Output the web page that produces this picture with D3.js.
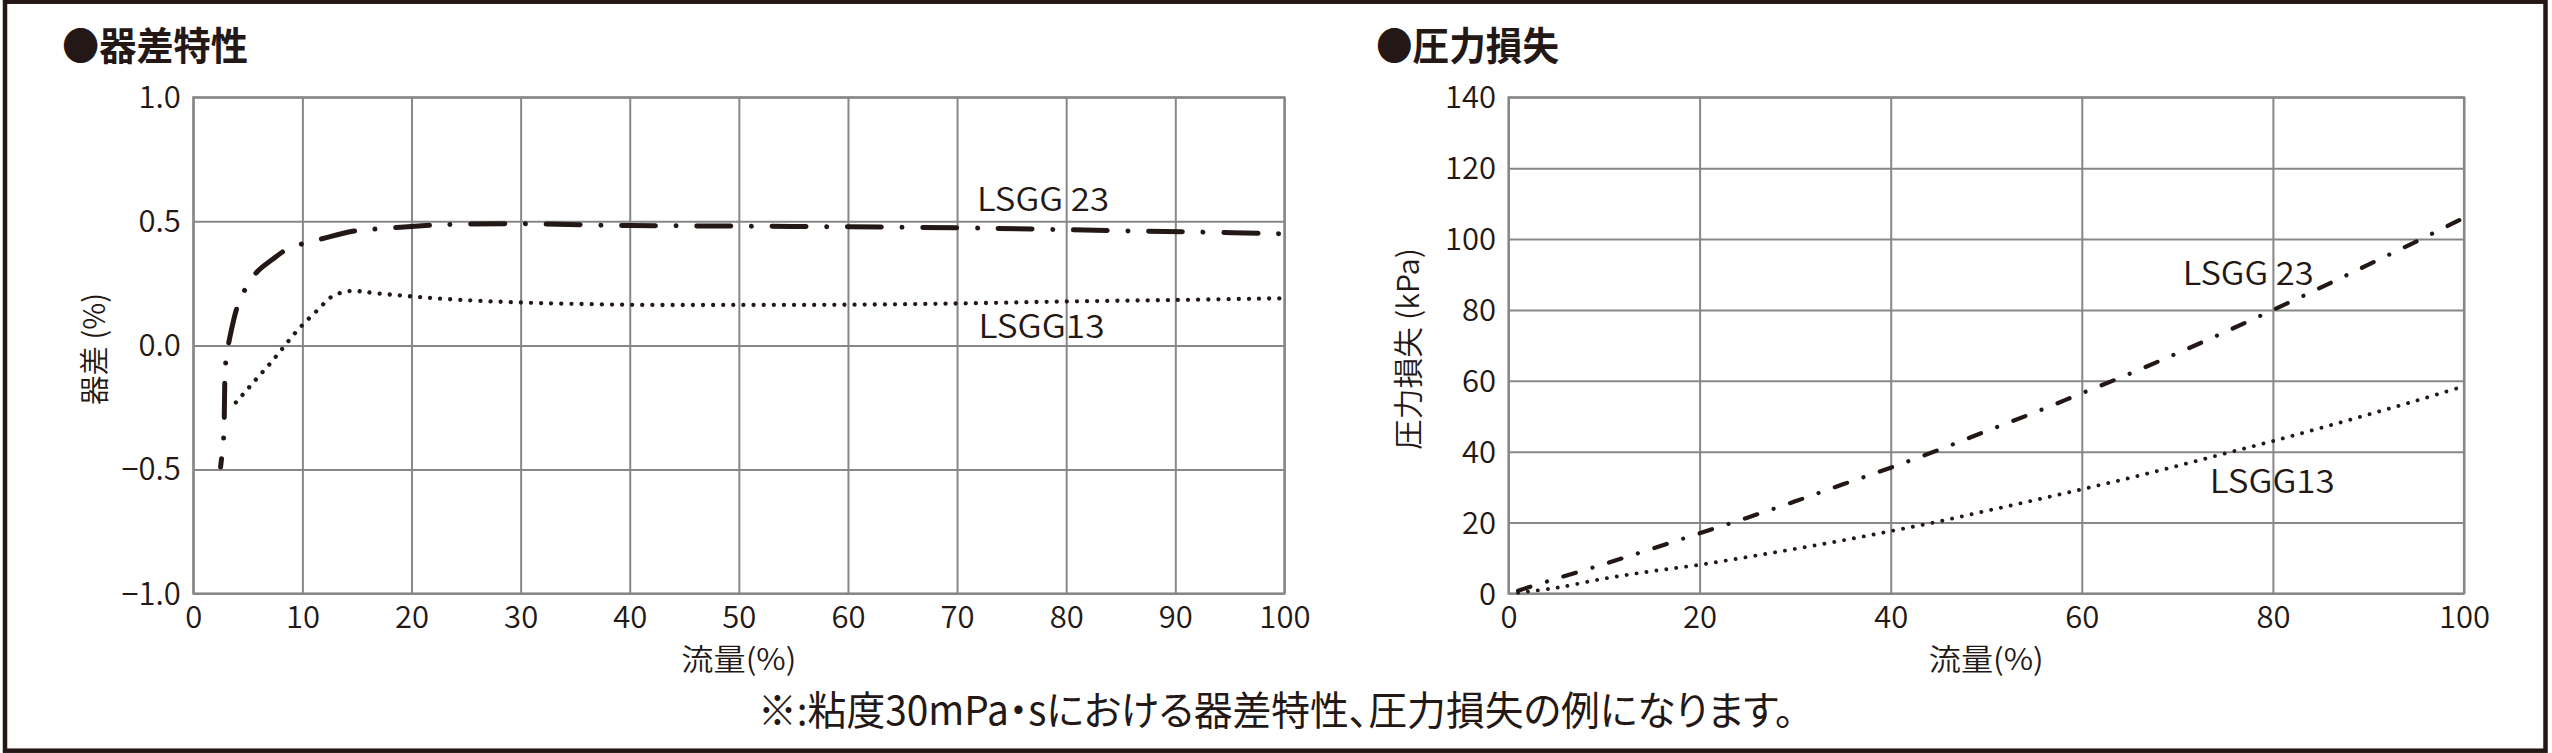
<!DOCTYPE html>
<html><head><meta charset="utf-8">
<script src="https://cdn.jsdelivr.net/npm/d3@7"></script>
<style>
html,body{margin:0;padding:0;background:#fff;}
svg{display:block;}
text{font-family:"Noto Sans CJK JP","Noto Sans",sans-serif;fill:#231815;}
.light{font-weight:350;}
.palt{font-feature-settings:"palt" 1;}
</style>
</head><body>
<svg id="c" width="2552" height="753"></svg>
<script>
// ---------- data ----------
// 器差特性 (instrumental error vs flow)
const devXTicks = [0, 10, 20, 30, 40, 50, 60, 70, 80, 90, 100];
const devYTicks = [-1, -0.5, 0, 0.5, 1];
const devYLabels = ["−1.0", "−0.5", "0.0", "0.5", "1.0"];
const devFlow23 = [2.5, 2.8, 2.85, 2.9, 3.0, 3.3, 4.1, 4.9, 5.9, 7.2, 8.5, 9.8, 11.8, 14.6, 17, 20, 23, 30, 40, 50, 60, 70, 78, 85, 92, 100];
const devErr23  = [-0.49, -0.36, -0.25, -0.13, -0.055, 0.022, 0.165, 0.237, 0.299, 0.345, 0.385, 0.407, 0.43, 0.46, 0.47, 0.479, 0.487, 0.49, 0.483, 0.481, 0.478, 0.474, 0.468, 0.462, 0.457, 0.45];
const devFlow13 = [3.9, 4.5, 5.75, 7.0, 8.2, 9.35, 10.0, 10.7, 11.5, 12.1, 12.8, 13.7, 14.6, 15.5, 16.4, 19.9, 23.2, 29.3, 39.6, 50, 60, 70, 80, 90, 100];
const devErr13  = [-0.23, -0.2, -0.137, -0.075, -0.011, 0.051, 0.082, 0.113, 0.147, 0.174, 0.2, 0.214, 0.22, 0.217, 0.212, 0.198, 0.187, 0.174, 0.164, 0.163, 0.164, 0.169, 0.177, 0.183, 0.19];

// 圧力損失 (pressure loss vs flow)
const pressXTicks = [0, 20, 40, 60, 80, 100];
const pressYTicks = [0, 20, 40, 60, 80, 100, 120, 140];
const pressFlow = [1, 5, 10, 15, 20, 25, 30, 35, 40, 45, 50, 55, 60, 65, 70, 75, 80, 85, 90, 95, 100];
const press23 = [0.8, 4.2, 8.3, 12.6, 17, 21.4, 26, 30.8, 35.5, 40.5, 45.8, 51, 56.5, 62, 67.8, 73.8, 80, 86.3, 92.8, 99.3, 106];
const press13 = [0.2, 1.6, 4.2, 6.3, 8.1, 10.3, 12.6, 15, 17.6, 20.3, 23.3, 26.3, 29.4, 32.6, 36, 39.5, 43, 46.7, 50.5, 54.4, 58.5];

const seriesNames = ["LSGG 23", "LSGG13"];
const titles = ["●器差特性", "●圧力損失"];
const xTitle = "流量(%)";
const yTitles = ["器差 (%)", "圧力損失 (kPa)"];
const footnote = "※:粘度30mPa・sにおける器差特性、圧力損失の例になります。";

// ---------- drawing ----------
const INK = "#231815", GRID = "#878787";
const svg = d3.select("#c");
svg.append("rect").attr("width", 2552).attr("height", 753).attr("fill", "#fff");

function fitText(sel, len) {
  sel.attr("textLength", len).attr("lengthAdjust", "spacingAndGlyphs");
  return sel;
}

function panel(cfg) {
  const g = svg.append("g");
  const x = d3.scaleLinear().domain([0, 100]).range([cfg.x0, cfg.x1]);
  const y = d3.scaleLinear().domain(cfg.yDomain).range([cfg.yBot, cfg.yTop]);
  const h = cfg.yBot - cfg.yTop, w = cfg.x1 - cfg.x0;

  const gx = g.append("g").attr("transform", `translate(0,${cfg.yBot})`)
    .call(d3.axisBottom(x).tickValues(cfg.xTicks).tickSize(-h).tickPadding(12.5).tickFormat(d3.format("d")));
  const gy = g.append("g").attr("transform", `translate(${cfg.x0},0)`)
    .call(d3.axisLeft(y).tickValues(cfg.yTicks).tickSize(-w).tickPadding(12.5)
      .tickFormat((d, i) => cfg.yLabels[i]));
  [gx, gy].forEach(a => {
    a.select(".domain").remove();
    a.selectAll(".tick line").attr("stroke", GRID).attr("stroke-width", 2);
    a.selectAll(".tick text").attr("fill", INK).attr("class", "light").style("font-size", "31px")
      .style("font-family", '"Noto Sans CJK JP","Noto Sans",sans-serif');
  });
  gy.selectAll(".tick text").attr("dy", "0.34em");
  g.append("rect").attr("x", cfg.x0).attr("y", cfg.yTop).attr("width", w).attr("height", h)
    .attr("fill", "none").attr("stroke", GRID).attr("stroke-width", 2.2);

  const line = d3.line().x(d => x(d[0])).y(d => y(d[1])).curve(d3.curveCatmullRom.alpha(0.5));
  cfg.series.forEach(s => {
    g.append("path").datum(d3.zip(s.xs, s.ys)).attr("d", line)
      .attr("fill", "none").attr("stroke", INK).attr("stroke-width", s.width)
      .attr("stroke-linecap", "round").attr("stroke-linejoin", "round")
      .attr("stroke-dasharray", s.dash).attr("stroke-dashoffset", s.offset || 0);
  });
  cfg.labels.forEach(l => {
    fitText(g.append("text").attr("class", "light").attr("x", l.x).attr("y", l.y)
      .style("font-size", "32px").text(l.text), l.len);
  });
  // title
  fitText(g.append("text").attr("x", cfg.titleX).attr("y", 60).style("font-size", "39px")
    .style("font-weight", 700).text(cfg.title), cfg.titleLen);
  // x title
  fitText(g.append("text").attr("class", "light").attr("x", (cfg.x0 + cfg.x1) / 2).attr("y", 670)
    .attr("text-anchor", "middle").style("font-size", "30px").text(xTitle), 115);
  // y title
  fitText(g.append("text").attr("class", "light").attr("transform", `translate(${cfg.yTitleX},349) rotate(-90)`)
    .attr("text-anchor", "middle").attr("dominant-baseline", "central")
    .style("font-size", "30px").text(cfg.yTitle), cfg.yTitleLen);
}

panel({
  x0: 193.3, x1: 1284.4, yTop: 97.3, yBot: 593.5,
  yDomain: [-1, 1], xTicks: devXTicks, yTicks: devYTicks, yLabels: devYLabels,
  series: [
    {xs: devFlow23, ys: devErr23, width: 5, dash: "34 20.65 0.01 20.65", offset: 25.7},
    {xs: devFlow13, ys: devErr13, width: 4.3, dash: "0.01 10.1"}
  ],
  labels: [
    {text: seriesNames[0], x: 977, y: 211, len: 132},
    {text: seriesNames[1], x: 978.6, y: 338, len: 126}
  ],
  title: titles[0], titleX: 62, titleLen: 186,
  yTitle: yTitles[0], yTitleX: 92, yTitleLen: 112
});

panel({
  x0: 1508.5, x1: 2464, yTop: 97.3, yBot: 593.5,
  yDomain: [0, 140], xTicks: pressXTicks, yTicks: pressYTicks, yLabels: pressYTicks.map(String),
  series: [
    {xs: pressFlow, ys: press23, width: 4.2, dash: "13 17.3 0.01 17.3"},
    {xs: pressFlow, ys: press13, width: 3.9, dash: "0.01 10"}
  ],
  labels: [
    {text: seriesNames[0], x: 2182.7, y: 285, len: 131},
    {text: seriesNames[1], x: 2209.8, y: 493, len: 125}
  ],
  title: titles[1], titleX: 1376, titleLen: 183,
  yTitle: yTitles[1], yTitleX: 1406, yTitleLen: 202
});

fitText(svg.append("text").attr("class", "palt").attr("x", 1276).attr("y", 725).attr("text-anchor", "middle")
  .style("font-size", "40px").text(footnote), 1036);

// outer frame
svg.append("rect").attr("x", 5).attr("y", 1.7).attr("width", 2540.5).attr("height", 749)
  .attr("fill", "none").attr("stroke", INK).attr("stroke-width", 4.5);
</script>
</body></html>
